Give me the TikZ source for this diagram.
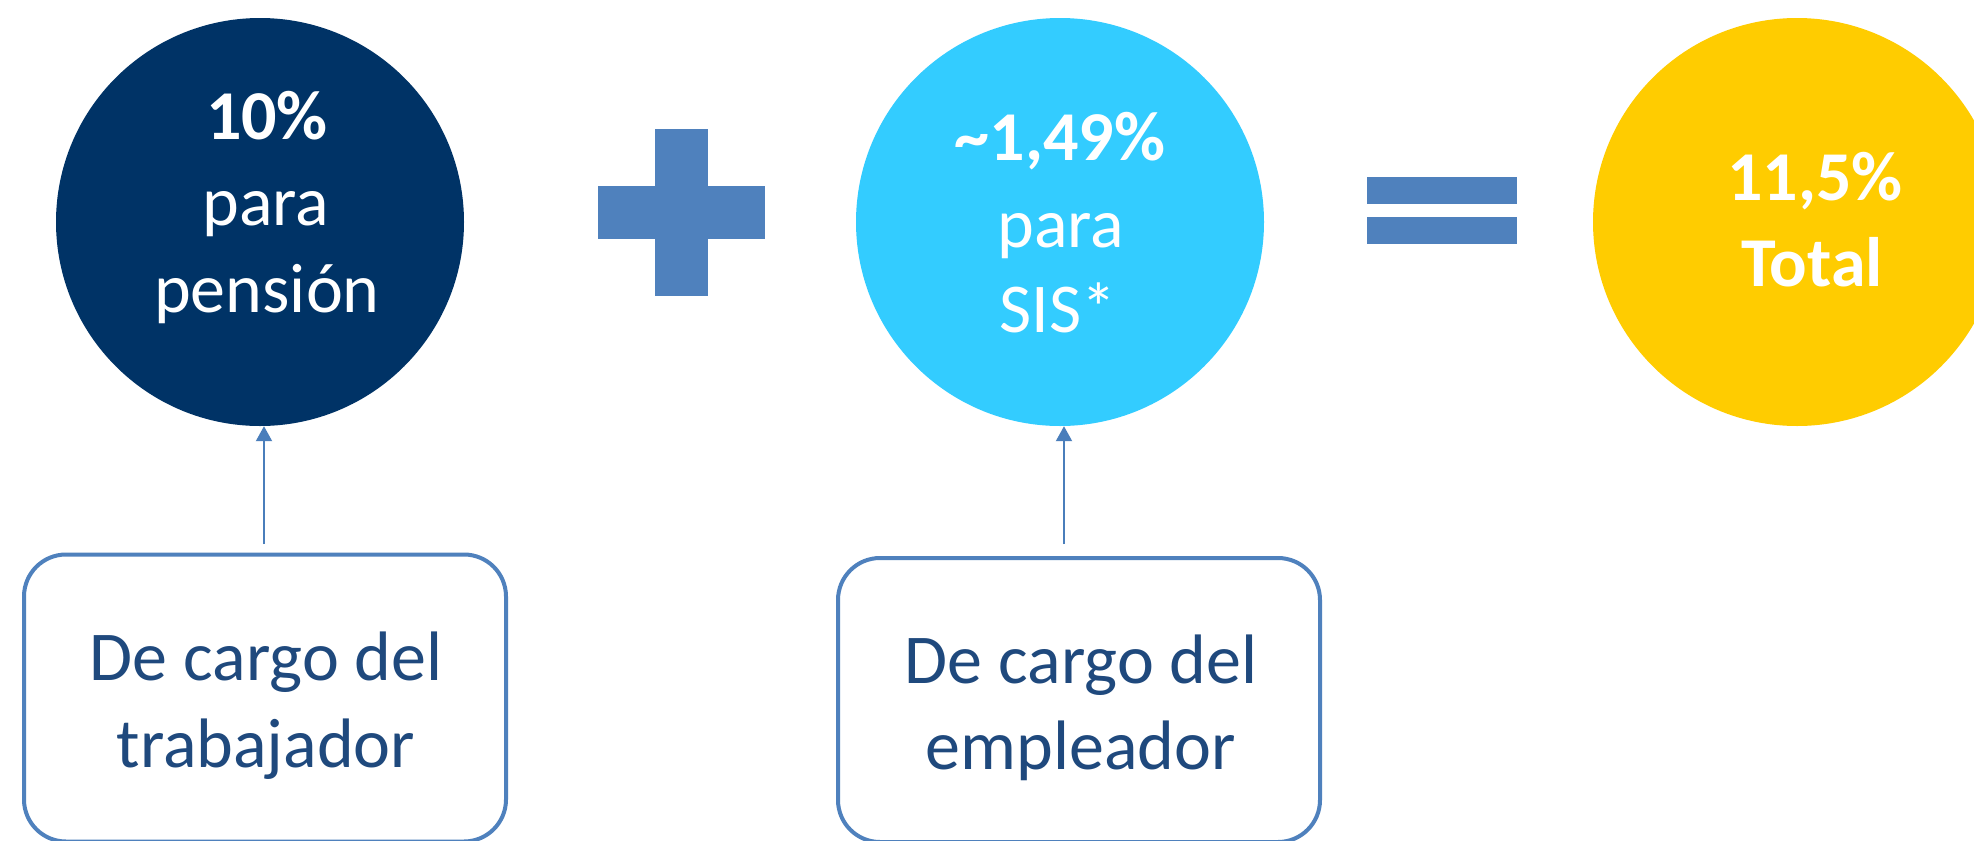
\documentclass[tikz,border=0pt]{standalone}
\usepackage{fontspec}
\setmainfont{Carlito}
\usetikzlibrary{arrows.meta}
\definecolor{navy}{HTML}{003366}
\definecolor{sky}{HTML}{33CCFF}
\definecolor{gold}{HTML}{FFCC00}
\definecolor{opblue}{HTML}{4F81BD}
\definecolor{txtblue}{HTML}{1F497D}
\definecolor{arrblue}{HTML}{4A7EBB}
\begin{document}
\begin{tikzpicture}[x=1pt,y=-1pt,
  disc/.style={circle,minimum size=408pt,inner sep=0pt,draw=none},
  big/.style={font=\fontsize{70}{86}\selectfont,inner sep=0pt,anchor=base,text=white},
  boxtxt/.style={font=\fontsize{70}{86}\selectfont,inner sep=0pt,anchor=base,text=txtblue},
  cargo/.style={draw=opblue,line width=4pt,rounded corners=42pt,minimum width=482pt,inner sep=0pt},
  arr/.style={draw=arrblue,line width=2pt,-{Triangle[width=16pt,length=15pt]}},
  opsign/.style={fill=opblue}]
\useasboundingbox (0,0) rectangle (1974,841);
\clip (0,0) rectangle (1974,841);
\fill[white] (0,0) rectangle (1974,841);
% circles
\node[disc,fill=navy] (c1) at (260,222) {};
\node[disc,fill=sky] (c2) at (1060,222) {};
\node[disc,fill=gold] (c3) at (1797,222) {};
% circle texts
\node[big] (t1a) at (267,139) {\textbf{10\%}};
\node[big] (t1b) at (266,225) {para};
\node[big] (t1c) at (267,312) {pensión};
\node[big] (t2a) at (1060,160) {\textbf{\textasciitilde1,49\%}};
\node[big] (t2b) at (1061,247) {para};
\node[big] (t2c) at (1058,332) {SIS*};
\node[big] (t3a) at (1815,200) {\textbf{11,5\%}};
\node[big] (t3b) at (1812,286) {\textbf{Total}};
% plus sign
\fill[opsign] (655,129) rectangle (708,296);
\fill[opsign] (598,186) rectangle (765,239);
% equal sign
\fill[opsign] (1367,177) rectangle (1517,204);
\fill[opsign] (1367,217) rectangle (1517,244);
% boxes
\node[cargo,minimum height=287pt] (b1) at (265,698) {};
\node[cargo,minimum height=284pt] (b2) at (1079,700) {};
\node[boxtxt] (b1a) at (266,680) {De cargo del};
\node[boxtxt] (b1b) at (266,767) {trabajador};
\node[boxtxt] (b2a) at (1081,683) {De cargo del};
\node[boxtxt] (b2b) at (1081,769) {empleador};
% arrows
\coordinate (a1) at (264,544);
\coordinate (a2) at (1064,544);
\draw[arr] (a1) -- (a1 |- c1.south);
\draw[arr] (a2) -- (a2 |- c2.south);
\end{tikzpicture}
\end{document}
